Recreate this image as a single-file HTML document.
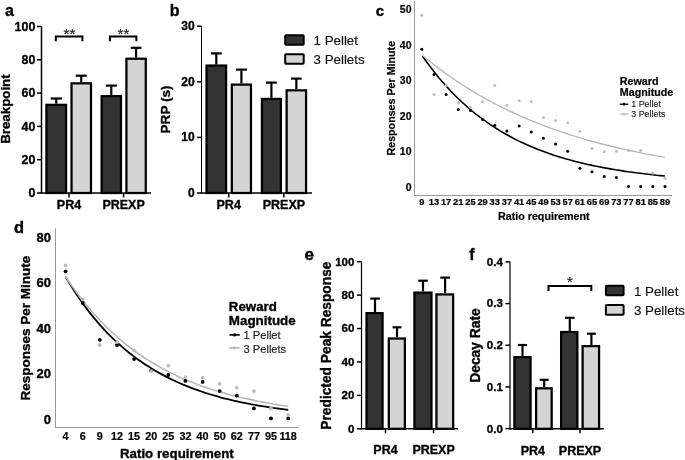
<!DOCTYPE html>
<html><head><meta charset="utf-8"><style>
html,body{margin:0;padding:0;background:#fff;}
body{width:685px;height:460px;position:relative;overflow:hidden;font-family:"Liberation Sans", sans-serif;}
</style></head><body>
<svg width="685" height="460" viewBox="0 0 685 460" style="position:absolute;left:0;top:0;will-change:transform">
<g font-family='"Liberation Sans", sans-serif'>
<text x="5.00" y="16.00" font-size="16" font-weight="bold" text-anchor="start" fill="#000"  stroke="#000" stroke-width="0.35">a</text>
<line x1="41.50" y1="26.50" x2="41.50" y2="193.75" stroke="#000" stroke-width="1.5"/>
<line x1="40.75" y1="193.00" x2="151.00" y2="193.00" stroke="#000" stroke-width="1.5"/>
<line x1="37.00" y1="193.00" x2="41.50" y2="193.00" stroke="#000" stroke-width="1.5"/>
<text x="35.30" y="197.10" font-size="12.4" font-weight="bold" text-anchor="end" fill="#000"  stroke="#000" stroke-width="0.35">0</text>
<line x1="37.00" y1="159.70" x2="41.50" y2="159.70" stroke="#000" stroke-width="1.5"/>
<text x="35.30" y="163.80" font-size="12.4" font-weight="bold" text-anchor="end" fill="#000"  stroke="#000" stroke-width="0.35">20</text>
<line x1="37.00" y1="126.40" x2="41.50" y2="126.40" stroke="#000" stroke-width="1.5"/>
<text x="35.30" y="130.50" font-size="12.4" font-weight="bold" text-anchor="end" fill="#000"  stroke="#000" stroke-width="0.35">40</text>
<line x1="37.00" y1="93.10" x2="41.50" y2="93.10" stroke="#000" stroke-width="1.5"/>
<text x="35.30" y="97.20" font-size="12.4" font-weight="bold" text-anchor="end" fill="#000"  stroke="#000" stroke-width="0.35">60</text>
<line x1="37.00" y1="59.80" x2="41.50" y2="59.80" stroke="#000" stroke-width="1.5"/>
<text x="35.30" y="63.90" font-size="12.4" font-weight="bold" text-anchor="end" fill="#000"  stroke="#000" stroke-width="0.35">80</text>
<line x1="37.00" y1="26.50" x2="41.50" y2="26.50" stroke="#000" stroke-width="1.5"/>
<text x="35.30" y="30.60" font-size="12.4" font-weight="bold" text-anchor="end" fill="#000"  stroke="#000" stroke-width="0.35">100</text>
<line x1="69.00" y1="193.00" x2="69.00" y2="197.50" stroke="#000" stroke-width="1.5"/>
<text x="69.00" y="209.10" font-size="12.5" font-weight="bold" text-anchor="middle" fill="#000"  stroke="#000" stroke-width="0.35">PR4</text>
<line x1="123.60" y1="193.00" x2="123.60" y2="197.50" stroke="#000" stroke-width="1.5"/>
<text x="123.60" y="209.10" font-size="12.5" font-weight="bold" text-anchor="middle" fill="#000"  stroke="#000" stroke-width="0.35">PREXP</text>
<rect x="46.42" y="104.83" width="19.65" height="88.17" fill="#333333" stroke="#000" stroke-width="2.25"/>
<rect x="71.53" y="83.33" width="19.45" height="109.67" fill="#d4d4d4" stroke="#000" stroke-width="2.25"/>
<rect x="101.62" y="96.12" width="19.35" height="96.88" fill="#333333" stroke="#000" stroke-width="2.25"/>
<rect x="126.42" y="58.73" width="19.35" height="134.28" fill="#d4d4d4" stroke="#000" stroke-width="2.25"/>
<line x1="56.25" y1="98.50" x2="56.25" y2="103.70" stroke="#000" stroke-width="2.2"/>
<line x1="50.65" y1="98.50" x2="61.85" y2="98.50" stroke="#000" stroke-width="2.2"/>
<line x1="81.25" y1="75.70" x2="81.25" y2="82.20" stroke="#000" stroke-width="2.2"/>
<line x1="75.75" y1="75.70" x2="86.75" y2="75.70" stroke="#000" stroke-width="2.2"/>
<line x1="111.30" y1="85.60" x2="111.30" y2="95.00" stroke="#000" stroke-width="2.2"/>
<line x1="105.80" y1="85.60" x2="116.80" y2="85.60" stroke="#000" stroke-width="2.2"/>
<line x1="136.10" y1="47.80" x2="136.10" y2="57.60" stroke="#000" stroke-width="2.2"/>
<line x1="130.70" y1="47.80" x2="141.50" y2="47.80" stroke="#000" stroke-width="2.2"/>
<polyline points="55.8,41.2 55.8,36.5 82.4,36.5 82.4,41.2" fill="none" stroke="#000" stroke-width="2"/>
<text x="69.40" y="39.30" font-size="15" font-weight="normal" text-anchor="middle" fill="#222"  stroke="#222" stroke-width="0.15">**</text>
<polyline points="109.9,41.2 109.9,36.5 136.4,36.5 136.4,41.2" fill="none" stroke="#000" stroke-width="2"/>
<text x="123.40" y="39.30" font-size="15" font-weight="normal" text-anchor="middle" fill="#222"  stroke="#222" stroke-width="0.15">**</text>
<text x="0" y="0" transform="translate(10.4,109.1) rotate(-90)" font-size="13.3" font-weight="bold" text-anchor="middle" fill="#000"  stroke="#000" stroke-width="0.35">Breakpoint</text>
<text x="169.70" y="16.30" font-size="16" font-weight="bold" text-anchor="start" fill="#000"  stroke="#000" stroke-width="0.35">b</text>
<line x1="201.50" y1="26.20" x2="201.50" y2="193.75" stroke="#000" stroke-width="1.0"/>
<line x1="200.75" y1="193.00" x2="312.00" y2="193.00" stroke="#000" stroke-width="1.5"/>
<line x1="197.00" y1="193.00" x2="201.50" y2="193.00" stroke="#000" stroke-width="1.5"/>
<text x="194.60" y="196.90" font-size="12.0" font-weight="bold" text-anchor="end" fill="#000"  stroke="#000" stroke-width="0.35">0</text>
<line x1="197.00" y1="137.40" x2="201.50" y2="137.40" stroke="#000" stroke-width="1.5"/>
<text x="194.60" y="141.30" font-size="12.0" font-weight="bold" text-anchor="end" fill="#000"  stroke="#000" stroke-width="0.35">10</text>
<line x1="197.00" y1="81.80" x2="201.50" y2="81.80" stroke="#000" stroke-width="1.5"/>
<text x="194.60" y="85.70" font-size="12.0" font-weight="bold" text-anchor="end" fill="#000"  stroke="#000" stroke-width="0.35">20</text>
<line x1="197.00" y1="26.20" x2="201.50" y2="26.20" stroke="#000" stroke-width="1.5"/>
<text x="194.60" y="30.10" font-size="12.0" font-weight="bold" text-anchor="end" fill="#000"  stroke="#000" stroke-width="0.35">30</text>
<line x1="228.70" y1="193.00" x2="228.70" y2="197.50" stroke="#000" stroke-width="1.5"/>
<text x="228.70" y="209.20" font-size="12.5" font-weight="bold" text-anchor="middle" fill="#000"  stroke="#000" stroke-width="0.35">PR4</text>
<line x1="283.90" y1="193.00" x2="283.90" y2="197.50" stroke="#000" stroke-width="1.5"/>
<text x="283.90" y="209.20" font-size="12.5" font-weight="bold" text-anchor="middle" fill="#000"  stroke="#000" stroke-width="0.35">PREXP</text>
<rect x="206.53" y="65.53" width="19.55" height="127.47" fill="#333333" stroke="#000" stroke-width="2.25"/>
<rect x="231.82" y="84.62" width="19.15" height="108.38" fill="#d4d4d4" stroke="#000" stroke-width="2.25"/>
<rect x="261.93" y="98.92" width="18.95" height="94.08" fill="#333333" stroke="#000" stroke-width="2.25"/>
<rect x="286.62" y="90.33" width="19.45" height="102.67" fill="#d4d4d4" stroke="#000" stroke-width="2.25"/>
<line x1="216.30" y1="53.40" x2="216.30" y2="64.40" stroke="#000" stroke-width="2.2"/>
<line x1="210.90" y1="53.40" x2="221.70" y2="53.40" stroke="#000" stroke-width="2.2"/>
<line x1="241.40" y1="69.60" x2="241.40" y2="83.50" stroke="#000" stroke-width="2.2"/>
<line x1="235.90" y1="69.60" x2="246.90" y2="69.60" stroke="#000" stroke-width="2.2"/>
<line x1="271.40" y1="82.60" x2="271.40" y2="97.80" stroke="#000" stroke-width="2.2"/>
<line x1="266.00" y1="82.60" x2="276.80" y2="82.60" stroke="#000" stroke-width="2.2"/>
<line x1="296.35" y1="78.60" x2="296.35" y2="89.20" stroke="#000" stroke-width="2.2"/>
<line x1="291.05" y1="78.60" x2="301.65" y2="78.60" stroke="#000" stroke-width="2.2"/>
<rect x="285.2" y="35.2" width="18.5" height="9.6" rx="0.8" fill="#333333" stroke="#000" stroke-width="2"/>
<rect x="285.2" y="54.2" width="18.5" height="9.6" rx="0.8" fill="#d4d4d4" stroke="#000" stroke-width="2"/>
<text x="313.60" y="44.60" font-size="13.3" font-weight="normal" text-anchor="start" fill="#111"  stroke="#111" stroke-width="0.15">1 Pellet</text>
<text x="313.60" y="63.80" font-size="13.3" font-weight="normal" text-anchor="start" fill="#111"  stroke="#111" stroke-width="0.15">3 Pellets</text>
<text x="0" y="0" transform="translate(170.0,109.4) rotate(-90)" font-size="13.6" font-weight="bold" text-anchor="middle" fill="#000"  stroke="#000" stroke-width="0.35">PRP (s)</text>
<text x="375.80" y="16.20" font-size="15" font-weight="bold" text-anchor="start" fill="#000"  stroke="#000" stroke-width="0.35">c</text>
<line x1="414.50" y1="1.00" x2="414.50" y2="196.00" stroke="#999999" stroke-width="1"/>
<line x1="414.00" y1="195.50" x2="672.00" y2="195.50" stroke="#999999" stroke-width="1"/>
<text x="411.50" y="190.60" font-size="10.5" font-weight="bold" text-anchor="end" fill="#000"  stroke="#000" stroke-width="0.22">0</text>
<text x="411.50" y="155.10" font-size="10.5" font-weight="bold" text-anchor="end" fill="#000"  stroke="#000" stroke-width="0.22">10</text>
<text x="411.50" y="119.60" font-size="10.5" font-weight="bold" text-anchor="end" fill="#000"  stroke="#000" stroke-width="0.22">20</text>
<text x="411.50" y="84.10" font-size="10.5" font-weight="bold" text-anchor="end" fill="#000"  stroke="#000" stroke-width="0.22">30</text>
<text x="411.50" y="48.60" font-size="10.5" font-weight="bold" text-anchor="end" fill="#000"  stroke="#000" stroke-width="0.22">40</text>
<text x="411.50" y="13.10" font-size="10.5" font-weight="bold" text-anchor="end" fill="#000"  stroke="#000" stroke-width="0.22">50</text>
<text x="421.80" y="205.00" font-size="9.3" font-weight="bold" text-anchor="middle" fill="#000"  stroke="#000" stroke-width="0.22">9</text>
<text x="433.96" y="205.00" font-size="9.3" font-weight="bold" text-anchor="middle" fill="#000"  stroke="#000" stroke-width="0.22">13</text>
<text x="446.12" y="205.00" font-size="9.3" font-weight="bold" text-anchor="middle" fill="#000"  stroke="#000" stroke-width="0.22">17</text>
<text x="458.28" y="205.00" font-size="9.3" font-weight="bold" text-anchor="middle" fill="#000"  stroke="#000" stroke-width="0.22">21</text>
<text x="470.44" y="205.00" font-size="9.3" font-weight="bold" text-anchor="middle" fill="#000"  stroke="#000" stroke-width="0.22">25</text>
<text x="482.60" y="205.00" font-size="9.3" font-weight="bold" text-anchor="middle" fill="#000"  stroke="#000" stroke-width="0.22">29</text>
<text x="494.76" y="205.00" font-size="9.3" font-weight="bold" text-anchor="middle" fill="#000"  stroke="#000" stroke-width="0.22">33</text>
<text x="506.92" y="205.00" font-size="9.3" font-weight="bold" text-anchor="middle" fill="#000"  stroke="#000" stroke-width="0.22">37</text>
<text x="519.08" y="205.00" font-size="9.3" font-weight="bold" text-anchor="middle" fill="#000"  stroke="#000" stroke-width="0.22">41</text>
<text x="531.24" y="205.00" font-size="9.3" font-weight="bold" text-anchor="middle" fill="#000"  stroke="#000" stroke-width="0.22">45</text>
<text x="543.40" y="205.00" font-size="9.3" font-weight="bold" text-anchor="middle" fill="#000"  stroke="#000" stroke-width="0.22">49</text>
<text x="555.56" y="205.00" font-size="9.3" font-weight="bold" text-anchor="middle" fill="#000"  stroke="#000" stroke-width="0.22">53</text>
<text x="567.72" y="205.00" font-size="9.3" font-weight="bold" text-anchor="middle" fill="#000"  stroke="#000" stroke-width="0.22">57</text>
<text x="579.88" y="205.00" font-size="9.3" font-weight="bold" text-anchor="middle" fill="#000"  stroke="#000" stroke-width="0.22">61</text>
<text x="592.04" y="205.00" font-size="9.3" font-weight="bold" text-anchor="middle" fill="#000"  stroke="#000" stroke-width="0.22">65</text>
<text x="604.20" y="205.00" font-size="9.3" font-weight="bold" text-anchor="middle" fill="#000"  stroke="#000" stroke-width="0.22">69</text>
<text x="616.36" y="205.00" font-size="9.3" font-weight="bold" text-anchor="middle" fill="#000"  stroke="#000" stroke-width="0.22">73</text>
<text x="628.52" y="205.00" font-size="9.3" font-weight="bold" text-anchor="middle" fill="#000"  stroke="#000" stroke-width="0.22">77</text>
<text x="640.68" y="205.00" font-size="9.3" font-weight="bold" text-anchor="middle" fill="#000"  stroke="#000" stroke-width="0.22">81</text>
<text x="652.84" y="205.00" font-size="9.3" font-weight="bold" text-anchor="middle" fill="#000"  stroke="#000" stroke-width="0.22">85</text>
<text x="665.00" y="205.00" font-size="9.3" font-weight="bold" text-anchor="middle" fill="#000"  stroke="#000" stroke-width="0.22">89</text>
<text x="543.80" y="219.50" font-size="10.7" font-weight="bold" text-anchor="middle" fill="#000"  stroke="#000" stroke-width="0.22">Ratio requirement</text>
<text x="0" y="0" transform="translate(395.3,98.2) rotate(-90)" font-size="10.7" font-weight="bold" text-anchor="middle" fill="#000"  stroke="#000" stroke-width="0.22">Responses Per Minute</text>
<polyline points="422.4,56.0 426.5,61.8 430.6,67.3 434.7,72.6 438.8,77.7 443.0,82.5 447.1,87.1 451.2,91.5 455.3,95.7 459.4,99.7 463.5,103.5 467.6,107.2 471.7,110.7 475.8,114.0 479.9,117.2 484.1,120.2 488.2,123.1 492.3,125.9 496.4,128.5 500.5,131.1 504.6,133.5 508.7,135.8 512.8,138.0 516.9,140.1 521.0,142.1 525.2,144.0 529.3,145.8 533.4,147.6 537.5,149.2 541.6,150.8 545.7,152.3 549.8,153.8 553.9,155.2 558.0,156.5 562.1,157.7 566.3,158.9 570.4,160.1 574.5,161.2 578.6,162.2 582.7,163.2 586.8,164.2 590.9,165.1 595.0,166.0 599.1,166.8 603.2,167.6 607.4,168.4 611.5,169.1 615.6,169.8 619.7,170.4 623.8,171.1 627.9,171.7 632.0,172.2 636.1,172.8 640.2,173.3 644.3,173.8 648.5,174.3 652.6,174.7 656.7,175.2 660.8,175.6 664.9,176.0" fill="none" stroke="#000" stroke-width="1.6"/>
<polyline points="422.4,55.3 426.5,58.7 430.6,62.0 434.7,65.2 438.8,68.4 443.0,71.4 447.1,74.4 451.2,77.3 455.3,80.1 459.4,82.8 463.5,85.5 467.6,88.1 471.7,90.6 475.8,93.1 479.9,95.5 484.1,97.8 488.2,100.1 492.3,102.3 496.4,104.5 500.5,106.6 504.6,108.6 508.7,110.6 512.8,112.5 516.9,114.4 521.0,116.3 525.2,118.0 529.3,119.8 533.4,121.5 537.5,123.1 541.6,124.7 545.7,126.3 549.8,127.8 553.9,129.3 558.0,130.7 562.1,132.1 566.3,133.5 570.4,134.8 574.5,136.1 578.6,137.4 582.7,138.6 586.8,139.8 590.9,141.0 595.0,142.1 599.1,143.2 603.2,144.3 607.4,145.3 611.5,146.3 615.6,147.3 619.7,148.3 623.8,149.2 627.9,150.1 632.0,151.0 636.1,151.9 640.2,152.7 644.3,153.6 648.5,154.4 652.6,155.1 656.7,155.9 660.8,156.6 664.9,157.4" fill="none" stroke="#b8b8b8" stroke-width="1.4"/>
<circle cx="421.8" cy="49.3" r="1.5" fill="#000"/>
<circle cx="434.0" cy="74.5" r="1.5" fill="#000"/>
<circle cx="446.1" cy="94.5" r="1.5" fill="#000"/>
<circle cx="458.3" cy="109.6" r="1.5" fill="#000"/>
<circle cx="470.4" cy="110.4" r="1.5" fill="#000"/>
<circle cx="482.6" cy="119.5" r="1.5" fill="#000"/>
<circle cx="494.8" cy="125.2" r="1.5" fill="#000"/>
<circle cx="506.9" cy="131.1" r="1.5" fill="#000"/>
<circle cx="519.1" cy="126" r="1.5" fill="#000"/>
<circle cx="531.2" cy="132.1" r="1.5" fill="#000"/>
<circle cx="543.4" cy="138.3" r="1.5" fill="#000"/>
<circle cx="555.6" cy="144.1" r="1.5" fill="#000"/>
<circle cx="567.7" cy="151.2" r="1.5" fill="#000"/>
<circle cx="579.9" cy="168.3" r="1.5" fill="#000"/>
<circle cx="592.0" cy="171.8" r="1.5" fill="#000"/>
<circle cx="604.2" cy="176.5" r="1.5" fill="#000"/>
<circle cx="616.4" cy="177.4" r="1.5" fill="#000"/>
<circle cx="628.5" cy="186.4" r="1.5" fill="#000"/>
<circle cx="640.7" cy="186.4" r="1.5" fill="#000"/>
<circle cx="652.8" cy="186.4" r="1.5" fill="#000"/>
<circle cx="665.0" cy="186.4" r="1.5" fill="#000"/>
<circle cx="421.8" cy="15.3" r="1.5" fill="#bdbdbd"/>
<circle cx="434.0" cy="94.4" r="1.5" fill="#bdbdbd"/>
<circle cx="446.1" cy="85.4" r="1.5" fill="#bdbdbd"/>
<circle cx="458.3" cy="102.7" r="1.5" fill="#bdbdbd"/>
<circle cx="470.4" cy="107.3" r="1.5" fill="#bdbdbd"/>
<circle cx="482.6" cy="101.7" r="1.5" fill="#bdbdbd"/>
<circle cx="494.8" cy="85.6" r="1.5" fill="#bdbdbd"/>
<circle cx="506.9" cy="105.4" r="1.5" fill="#bdbdbd"/>
<circle cx="519.1" cy="100.8" r="1.5" fill="#bdbdbd"/>
<circle cx="531.2" cy="101.5" r="1.5" fill="#bdbdbd"/>
<circle cx="543.4" cy="117.5" r="1.5" fill="#bdbdbd"/>
<circle cx="555.6" cy="120.6" r="1.5" fill="#bdbdbd"/>
<circle cx="567.7" cy="122.7" r="1.5" fill="#bdbdbd"/>
<circle cx="579.9" cy="131.2" r="1.5" fill="#bdbdbd"/>
<circle cx="592.0" cy="148.4" r="1.5" fill="#bdbdbd"/>
<circle cx="604.2" cy="151.7" r="1.5" fill="#bdbdbd"/>
<circle cx="616.4" cy="151.3" r="1.5" fill="#bdbdbd"/>
<circle cx="628.5" cy="150.6" r="1.5" fill="#bdbdbd"/>
<circle cx="640.7" cy="150.4" r="1.5" fill="#bdbdbd"/>
<circle cx="652.8" cy="173" r="1.5" fill="#bdbdbd"/>
<circle cx="665.0" cy="178.3" r="1.5" fill="#bdbdbd"/>
<text x="619.80" y="84.80" font-size="10.7" font-weight="bold" text-anchor="start" fill="#000"  stroke="#000" stroke-width="0.22">Reward</text>
<text x="619.80" y="95.90" font-size="10.7" font-weight="bold" text-anchor="start" fill="#000"  stroke="#000" stroke-width="0.22">Magnitude</text>
<line x1="619.80" y1="104.20" x2="628.20" y2="104.20" stroke="#000" stroke-width="1.3"/>
<circle cx="624" cy="104.2" r="1.4" fill="#000"/>
<line x1="619.80" y1="114.10" x2="628.20" y2="114.10" stroke="#b8b8b8" stroke-width="1.3"/>
<circle cx="624" cy="114.1" r="1.4" fill="#bdbdbd"/>
<text x="631.30" y="106.90" font-size="8.9" font-weight="normal" text-anchor="start" fill="#222"  stroke="#222" stroke-width="0.15">1 Pellet</text>
<text x="631.30" y="117.20" font-size="8.9" font-weight="normal" text-anchor="start" fill="#222"  stroke="#222" stroke-width="0.15">3 Pellets</text>
<text x="13.90" y="233.20" font-size="16.4" font-weight="bold" text-anchor="start" fill="#000"  stroke="#000" stroke-width="0.35">d</text>
<line x1="55.50" y1="228.30" x2="55.50" y2="428.00" stroke="#999999" stroke-width="1"/>
<line x1="55.00" y1="427.50" x2="298.80" y2="427.50" stroke="#999999" stroke-width="1"/>
<text x="51.00" y="423.50" font-size="13" font-weight="bold" text-anchor="end" fill="#000"  stroke="#000" stroke-width="0.35">0</text>
<text x="51.00" y="378.16" font-size="13" font-weight="bold" text-anchor="end" fill="#000"  stroke="#000" stroke-width="0.35">20</text>
<text x="51.00" y="332.82" font-size="13" font-weight="bold" text-anchor="end" fill="#000"  stroke="#000" stroke-width="0.35">40</text>
<text x="51.00" y="287.48" font-size="13" font-weight="bold" text-anchor="end" fill="#000"  stroke="#000" stroke-width="0.35">60</text>
<text x="51.00" y="242.14" font-size="13" font-weight="bold" text-anchor="end" fill="#000"  stroke="#000" stroke-width="0.35">80</text>
<text x="65.60" y="440.20" font-size="10.8" font-weight="bold" text-anchor="middle" fill="#000"  stroke="#000" stroke-width="0.22">4</text>
<text x="82.72" y="440.20" font-size="10.8" font-weight="bold" text-anchor="middle" fill="#000"  stroke="#000" stroke-width="0.22">6</text>
<text x="99.84" y="440.20" font-size="10.8" font-weight="bold" text-anchor="middle" fill="#000"  stroke="#000" stroke-width="0.22">9</text>
<text x="116.96" y="440.20" font-size="10.8" font-weight="bold" text-anchor="middle" fill="#000"  stroke="#000" stroke-width="0.22">12</text>
<text x="134.08" y="440.20" font-size="10.8" font-weight="bold" text-anchor="middle" fill="#000"  stroke="#000" stroke-width="0.22">15</text>
<text x="151.20" y="440.20" font-size="10.8" font-weight="bold" text-anchor="middle" fill="#000"  stroke="#000" stroke-width="0.22">20</text>
<text x="168.32" y="440.20" font-size="10.8" font-weight="bold" text-anchor="middle" fill="#000"  stroke="#000" stroke-width="0.22">25</text>
<text x="185.44" y="440.20" font-size="10.8" font-weight="bold" text-anchor="middle" fill="#000"  stroke="#000" stroke-width="0.22">32</text>
<text x="202.56" y="440.20" font-size="10.8" font-weight="bold" text-anchor="middle" fill="#000"  stroke="#000" stroke-width="0.22">40</text>
<text x="219.68" y="440.20" font-size="10.8" font-weight="bold" text-anchor="middle" fill="#000"  stroke="#000" stroke-width="0.22">50</text>
<text x="236.80" y="440.20" font-size="10.8" font-weight="bold" text-anchor="middle" fill="#000"  stroke="#000" stroke-width="0.22">62</text>
<text x="253.92" y="440.20" font-size="10.8" font-weight="bold" text-anchor="middle" fill="#000"  stroke="#000" stroke-width="0.22">77</text>
<text x="271.04" y="440.20" font-size="10.8" font-weight="bold" text-anchor="middle" fill="#000"  stroke="#000" stroke-width="0.22">95</text>
<text x="288.16" y="440.20" font-size="10.8" font-weight="bold" text-anchor="middle" fill="#000"  stroke="#000" stroke-width="0.22">118</text>
<text x="176.90" y="458.00" font-size="13.3" font-weight="bold" text-anchor="middle" fill="#000"  stroke="#000" stroke-width="0.35">Ratio requirement</text>
<text x="0" y="0" transform="translate(30.0,328.2) rotate(-90)" font-size="13.5" font-weight="bold" text-anchor="middle" fill="#000"  stroke="#000" stroke-width="0.35">Responses Per Minute</text>
<polyline points="65.5,276.8 69.3,283.1 73.1,289.1 76.8,294.9 80.6,300.3 84.4,305.6 88.2,310.6 91.9,315.4 95.7,320.0 99.5,324.4 103.3,328.6 107.0,332.6 110.8,336.4 114.6,340.1 118.4,343.6 122.1,346.9 125.9,350.1 129.7,353.2 133.5,356.1 137.2,358.9 141.0,361.6 144.8,364.2 148.6,366.6 152.4,369.0 156.1,371.2 159.9,373.4 163.7,375.4 167.5,377.4 171.2,379.2 175.0,381.0 178.8,382.7 182.6,384.4 186.3,385.9 190.1,387.4 193.9,388.9 197.7,390.2 201.4,391.5 205.2,392.8 209.0,394.0 212.8,395.1 216.6,396.2 220.3,397.3 224.1,398.3 227.9,399.2 231.7,400.1 235.4,401.0 239.2,401.8 243.0,402.6 246.8,403.4 250.5,404.1 254.3,404.8 258.1,405.5 261.9,406.1 265.6,406.7 269.4,407.3 273.2,407.9 277.0,408.4 280.7,408.9 284.5,409.4 288.3,409.9" fill="none" stroke="#000" stroke-width="1.8"/>
<polyline points="65.5,276.6 69.3,282.2 73.1,287.6 76.8,292.8 80.6,297.8 84.4,302.6 88.2,307.2 91.9,311.6 95.7,315.8 99.5,319.9 103.3,323.8 107.0,327.6 110.8,331.2 114.6,334.7 118.4,338.0 122.1,341.2 125.9,344.3 129.7,347.3 133.5,350.1 137.2,352.8 141.0,355.5 144.8,358.0 148.6,360.4 152.4,362.7 156.1,365.0 159.9,367.1 163.7,369.2 167.5,371.2 171.2,373.1 175.0,374.9 178.8,376.7 182.6,378.4 186.3,380.0 190.1,381.6 193.9,383.1 197.7,384.5 201.4,385.9 205.2,387.2 209.0,388.5 212.8,389.7 216.6,390.9 220.3,392.0 224.1,393.1 227.9,394.2 231.7,395.2 235.4,396.1 239.2,397.1 243.0,398.0 246.8,398.8 250.5,399.6 254.3,400.4 258.1,401.2 261.9,401.9 265.6,402.6 269.4,403.3 273.2,404.0 277.0,404.6 280.7,405.2 284.5,405.7 288.3,406.3" fill="none" stroke="#b8b8b8" stroke-width="1.6"/>
<circle cx="65.6" cy="271.3" r="1.9" fill="#000"/>
<circle cx="82.7" cy="303" r="1.9" fill="#000"/>
<circle cx="99.8" cy="339.8" r="1.9" fill="#000"/>
<circle cx="117.0" cy="345" r="1.9" fill="#000"/>
<circle cx="134.1" cy="359.1" r="1.9" fill="#000"/>
<circle cx="151.2" cy="370.5" r="1.9" fill="#000"/>
<circle cx="168.3" cy="375" r="1.9" fill="#000"/>
<circle cx="185.4" cy="380.9" r="1.9" fill="#000"/>
<circle cx="202.6" cy="381.9" r="1.9" fill="#000"/>
<circle cx="219.7" cy="391.1" r="1.9" fill="#000"/>
<circle cx="236.8" cy="395.6" r="1.9" fill="#000"/>
<circle cx="253.9" cy="408.4" r="1.9" fill="#000"/>
<circle cx="271.0" cy="418.4" r="1.9" fill="#000"/>
<circle cx="288.2" cy="418.4" r="1.9" fill="#000"/>
<circle cx="65.6" cy="265.5" r="1.9" fill="#bdbdbd"/>
<circle cx="82.7" cy="299.3" r="1.9" fill="#bdbdbd"/>
<circle cx="99.8" cy="345" r="1.9" fill="#bdbdbd"/>
<circle cx="117.0" cy="342.2" r="1.9" fill="#bdbdbd"/>
<circle cx="134.1" cy="350.7" r="1.9" fill="#bdbdbd"/>
<circle cx="151.2" cy="371.1" r="1.9" fill="#bdbdbd"/>
<circle cx="168.3" cy="365.7" r="1.9" fill="#bdbdbd"/>
<circle cx="185.4" cy="377.1" r="1.9" fill="#bdbdbd"/>
<circle cx="202.6" cy="377.7" r="1.9" fill="#bdbdbd"/>
<circle cx="219.7" cy="383.8" r="1.9" fill="#bdbdbd"/>
<circle cx="236.8" cy="387.8" r="1.9" fill="#bdbdbd"/>
<circle cx="253.9" cy="391.1" r="1.9" fill="#bdbdbd"/>
<circle cx="271.0" cy="408.4" r="1.9" fill="#bdbdbd"/>
<circle cx="288.2" cy="414.8" r="1.9" fill="#bdbdbd"/>
<text x="228.80" y="310.70" font-size="13.3" font-weight="bold" text-anchor="start" fill="#000"  stroke="#000" stroke-width="0.35">Reward</text>
<text x="228.80" y="325.00" font-size="13.4" font-weight="bold" text-anchor="start" fill="#000"  stroke="#000" stroke-width="0.35">Magnitude</text>
<line x1="229.40" y1="334.90" x2="239.80" y2="334.90" stroke="#000" stroke-width="1.6"/>
<circle cx="234.6" cy="334.9" r="1.7" fill="#000"/>
<line x1="229.40" y1="347.90" x2="239.80" y2="347.90" stroke="#b8b8b8" stroke-width="1.6"/>
<circle cx="234.6" cy="347.9" r="1.7" fill="#bdbdbd"/>
<text x="243.60" y="339.40" font-size="11.1" font-weight="normal" text-anchor="start" fill="#1a1a1a"  stroke="#1a1a1a" stroke-width="0.15">1 Pellet</text>
<text x="243.60" y="352.50" font-size="11.1" font-weight="normal" text-anchor="start" fill="#1a1a1a"  stroke="#1a1a1a" stroke-width="0.15">3 Pellets</text>
<text x="304.60" y="259.50" font-size="17" font-weight="bold" text-anchor="start" fill="#000"  stroke="#000" stroke-width="0.35">e</text>
<line x1="361.50" y1="261.70" x2="361.50" y2="429.55" stroke="#000" stroke-width="1.2"/>
<line x1="360.75" y1="428.80" x2="458.00" y2="428.80" stroke="#000" stroke-width="1.5"/>
<line x1="357.00" y1="428.80" x2="361.50" y2="428.80" stroke="#000" stroke-width="1.5"/>
<text x="354.40" y="432.70" font-size="11.5" font-weight="bold" text-anchor="end" fill="#000"  stroke="#000" stroke-width="0.35">0</text>
<line x1="357.00" y1="395.38" x2="361.50" y2="395.38" stroke="#000" stroke-width="1.5"/>
<text x="354.40" y="399.28" font-size="11.5" font-weight="bold" text-anchor="end" fill="#000"  stroke="#000" stroke-width="0.35">20</text>
<line x1="357.00" y1="361.96" x2="361.50" y2="361.96" stroke="#000" stroke-width="1.5"/>
<text x="354.40" y="365.86" font-size="11.5" font-weight="bold" text-anchor="end" fill="#000"  stroke="#000" stroke-width="0.35">40</text>
<line x1="357.00" y1="328.54" x2="361.50" y2="328.54" stroke="#000" stroke-width="1.5"/>
<text x="354.40" y="332.44" font-size="11.5" font-weight="bold" text-anchor="end" fill="#000"  stroke="#000" stroke-width="0.35">60</text>
<line x1="357.00" y1="295.12" x2="361.50" y2="295.12" stroke="#000" stroke-width="1.5"/>
<text x="354.40" y="299.02" font-size="11.5" font-weight="bold" text-anchor="end" fill="#000"  stroke="#000" stroke-width="0.35">80</text>
<line x1="357.00" y1="261.70" x2="361.50" y2="261.70" stroke="#000" stroke-width="1.5"/>
<text x="354.40" y="265.60" font-size="11.5" font-weight="bold" text-anchor="end" fill="#000"  stroke="#000" stroke-width="0.35">100</text>
<line x1="385.50" y1="428.80" x2="385.50" y2="433.30" stroke="#000" stroke-width="1.5"/>
<text x="385.50" y="454.40" font-size="12.5" font-weight="bold" text-anchor="middle" fill="#000"  stroke="#000" stroke-width="0.35">PR4</text>
<line x1="433.60" y1="428.80" x2="433.60" y2="433.30" stroke="#000" stroke-width="1.5"/>
<text x="433.60" y="454.40" font-size="12.5" font-weight="bold" text-anchor="middle" fill="#000"  stroke="#000" stroke-width="0.35">PREXP</text>
<rect x="366.52" y="313.12" width="16.05" height="115.68" fill="#333333" stroke="#000" stroke-width="2.25"/>
<rect x="388.82" y="338.52" width="16.05" height="90.28" fill="#d4d4d4" stroke="#000" stroke-width="2.25"/>
<rect x="414.43" y="292.62" width="17.05" height="136.18" fill="#333333" stroke="#000" stroke-width="2.25"/>
<rect x="436.43" y="294.43" width="16.75" height="134.38" fill="#d4d4d4" stroke="#000" stroke-width="2.25"/>
<line x1="375.00" y1="298.60" x2="375.00" y2="312.00" stroke="#000" stroke-width="2.2"/>
<line x1="370.20" y1="298.60" x2="379.80" y2="298.60" stroke="#000" stroke-width="2.2"/>
<line x1="397.00" y1="327.30" x2="397.00" y2="337.40" stroke="#000" stroke-width="2.2"/>
<line x1="392.60" y1="327.30" x2="401.40" y2="327.30" stroke="#000" stroke-width="2.2"/>
<line x1="423.00" y1="280.70" x2="423.00" y2="291.50" stroke="#000" stroke-width="2.2"/>
<line x1="418.20" y1="280.70" x2="427.80" y2="280.70" stroke="#000" stroke-width="2.2"/>
<line x1="445.10" y1="277.60" x2="445.10" y2="293.30" stroke="#000" stroke-width="2.2"/>
<line x1="440.30" y1="277.60" x2="449.90" y2="277.60" stroke="#000" stroke-width="2.2"/>
<text x="0" y="0" transform="translate(330.8,345.6) rotate(-90)" font-size="13.76" font-weight="bold" text-anchor="middle" fill="#000"  stroke="#000" stroke-width="0.35">Predicted Peak Response</text>
<text x="469.20" y="260.20" font-size="16" font-weight="bold" text-anchor="start" fill="#000"  stroke="#000" stroke-width="0.35">f</text>
<line x1="510.00" y1="261.70" x2="510.00" y2="429.55" stroke="#000" stroke-width="1.2"/>
<line x1="509.25" y1="428.80" x2="603.80" y2="428.80" stroke="#000" stroke-width="1.5"/>
<line x1="505.50" y1="428.60" x2="510.00" y2="428.60" stroke="#000" stroke-width="1.5"/>
<text x="502.80" y="432.50" font-size="11.5" font-weight="bold" text-anchor="end" fill="#000"  stroke="#000" stroke-width="0.35">0.0</text>
<line x1="505.50" y1="386.93" x2="510.00" y2="386.93" stroke="#000" stroke-width="1.5"/>
<text x="502.80" y="390.83" font-size="11.5" font-weight="bold" text-anchor="end" fill="#000"  stroke="#000" stroke-width="0.35">0.1</text>
<line x1="505.50" y1="345.26" x2="510.00" y2="345.26" stroke="#000" stroke-width="1.5"/>
<text x="502.80" y="349.16" font-size="11.5" font-weight="bold" text-anchor="end" fill="#000"  stroke="#000" stroke-width="0.35">0.2</text>
<line x1="505.50" y1="303.59" x2="510.00" y2="303.59" stroke="#000" stroke-width="1.5"/>
<text x="502.80" y="307.49" font-size="11.5" font-weight="bold" text-anchor="end" fill="#000"  stroke="#000" stroke-width="0.35">0.3</text>
<line x1="505.50" y1="261.92" x2="510.00" y2="261.92" stroke="#000" stroke-width="1.5"/>
<text x="502.80" y="265.82" font-size="11.5" font-weight="bold" text-anchor="end" fill="#000"  stroke="#000" stroke-width="0.35">0.4</text>
<line x1="532.80" y1="428.80" x2="532.80" y2="433.30" stroke="#000" stroke-width="1.5"/>
<text x="532.80" y="454.80" font-size="12.5" font-weight="bold" text-anchor="middle" fill="#000"  stroke="#000" stroke-width="0.35">PR4</text>
<line x1="580.00" y1="428.80" x2="580.00" y2="433.30" stroke="#000" stroke-width="1.5"/>
<text x="580.00" y="454.80" font-size="12.5" font-weight="bold" text-anchor="middle" fill="#000"  stroke="#000" stroke-width="0.35">PREXP</text>
<rect x="514.42" y="357.12" width="16.15" height="71.68" fill="#333333" stroke="#000" stroke-width="2.25"/>
<rect x="536.12" y="388.32" width="15.55" height="40.48" fill="#d4d4d4" stroke="#000" stroke-width="2.25"/>
<rect x="561.12" y="332.02" width="16.25" height="96.78" fill="#333333" stroke="#000" stroke-width="2.25"/>
<rect x="582.62" y="346.12" width="16.45" height="82.68" fill="#d4d4d4" stroke="#000" stroke-width="2.25"/>
<line x1="522.50" y1="345.00" x2="522.50" y2="356.00" stroke="#000" stroke-width="2.2"/>
<line x1="517.90" y1="345.00" x2="527.10" y2="345.00" stroke="#000" stroke-width="2.2"/>
<line x1="544.20" y1="379.80" x2="544.20" y2="387.20" stroke="#000" stroke-width="2.2"/>
<line x1="539.70" y1="379.80" x2="548.70" y2="379.80" stroke="#000" stroke-width="2.2"/>
<line x1="569.80" y1="317.80" x2="569.80" y2="330.90" stroke="#000" stroke-width="2.2"/>
<line x1="565.00" y1="317.80" x2="574.60" y2="317.80" stroke="#000" stroke-width="2.2"/>
<line x1="591.40" y1="333.70" x2="591.40" y2="345.00" stroke="#000" stroke-width="2.2"/>
<line x1="586.90" y1="333.70" x2="595.90" y2="333.70" stroke="#000" stroke-width="2.2"/>
<polyline points="548.5,291.1 548.5,285.9 591.3,285.9 591.3,291.1" fill="none" stroke="#000" stroke-width="2"/>
<text x="569.80" y="287.40" font-size="15" font-weight="normal" text-anchor="middle" fill="#222"  stroke="#222" stroke-width="0.15">*</text>
<rect x="605.9" y="285.7" width="17.7" height="9.6" rx="0.8" fill="#333333" stroke="#000" stroke-width="2"/>
<rect x="605.9" y="304.9" width="17.7" height="9.8" rx="0.8" fill="#d4d4d4" stroke="#000" stroke-width="2"/>
<text x="634.00" y="295.70" font-size="13.3" font-weight="normal" text-anchor="start" fill="#111"  stroke="#111" stroke-width="0.15">1 Pellet</text>
<text x="634.00" y="314.70" font-size="13.3" font-weight="normal" text-anchor="start" fill="#111"  stroke="#111" stroke-width="0.15">3 Pellets</text>
<text x="0" y="0" transform="translate(479.6,345.5) rotate(-90)" font-size="13.8" font-weight="bold" text-anchor="middle" fill="#000"  stroke="#000" stroke-width="0.35">Decay Rate</text>
</g></svg>
</body></html>
